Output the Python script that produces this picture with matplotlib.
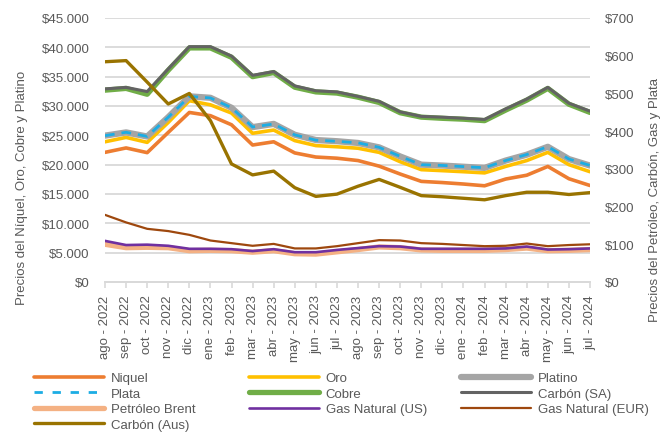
import matplotlib
matplotlib.use("Agg")
import matplotlib.pyplot as plt
from matplotlib.lines import Line2D
from matplotlib.ticker import FuncFormatter, MultipleLocator

months = ["ago - 2022", "sep - 2022", "oct - 2022", "nov - 2022", "dic - 2022",
          "ene - 2023", "feb - 2023", "mar - 2023", "abr - 2023", "may - 2023",
          "jun - 2023", "jul - 2023", "ago - 2023", "sep - 2023", "oct - 2023",
          "nov - 2023", "dic - 2023", "ene - 2024", "feb - 2024", "mar - 2024",
          "abr - 2024", "may - 2024", "jun - 2024", "jul - 2024"]

# Left axis series
niquel = [22100, 22850, 22050, 25500, 28900, 28350, 26800, 23350, 23900, 22000, 21300, 21100,
          20700, 19750, 18400, 17150, 16950, 16700, 16400, 17550, 18200, 19700, 17600, 16450]
oro = [23900, 24650, 23800, 27200, 30900, 30200, 28800, 25350, 25900, 24100, 23250, 23050,
       22800, 22100, 20500, 19150, 18980, 18800, 18600, 19700, 20700, 22100, 20000, 18800]
platino = [24950, 25500, 24800, 28100, 31650, 31400, 29700, 26400, 26950, 25100, 24200, 24000,
           23700, 22950, 21400, 20000, 19850, 19650, 19450, 20700, 21700, 23050, 20950, 19850]
cobre = [32700, 33000, 32000, 36100, 39900, 39900, 38300, 35000, 35700, 33200, 32400, 32200,
         31500, 30600, 28850, 28100, 27900, 27750, 27500, 29300, 31000, 33000, 30300, 28900]

# Right axis series
plata = [388, 397, 386, 437, 492, 488, 462, 411, 419, 390, 376, 373,
         369, 357, 333, 311, 309, 306, 303, 322, 338, 359, 326, 309]
carbon_sa = [512, 516, 505, 565, 624, 624, 599, 548, 558, 520, 507, 504,
             492, 479, 451, 439, 437, 434, 431, 459, 485, 516, 474, 453]
brent = [100, 91, 92, 91, 83, 84, 83, 79, 83, 75, 74, 80,
         86, 93, 91, 85, 84, 84, 84, 86, 90, 83, 84, 86]
gas_us = [109, 98, 99, 96, 88, 88, 87, 82, 87, 79, 79, 85,
          90, 95, 94, 88, 88, 88, 88, 89, 94, 86, 87, 89]
gas_eur = [178, 158, 141, 135, 125, 110, 103, 96, 101, 89, 89, 95,
           103, 111, 110, 103, 101, 98, 95, 96, 102, 95, 98, 100]
carbon_aus = [584, 587, 530, 472, 500, 428, 313, 284, 294, 250, 227, 233,
              254, 272, 251, 229, 226, 222, 218, 229, 238, 238, 232, 237]

plt.rcParams['font.family'] = ['Liberation Sans', 'DejaVu Sans']
TXT = '#595959'
FS = 9.5

W, H = 671, 435
fig = plt.figure(figsize=(W / 100, H / 100), dpi=100)
L, R, T, B = 105, 590, 19, 283
ax = fig.add_axes([L / W, 1 - B / H, (R - L) / W, (B - T) / H])
ax2 = ax.twinx()

x = list(range(len(months)))

h_niq, = ax.plot(x, niquel, color='#ED7D31', lw=2.6, solid_capstyle='round', label='Niquel')
h_oro, = ax.plot(x, oro, color='#FFC000', lw=2.6, solid_capstyle='round', label='Oro')
h_pla, = ax.plot(x, platino, color='#A5A5A5', lw=4.5, solid_capstyle='round', label='Platino')
h_cob, = ax.plot(x, cobre, color='#70AD47', lw=3.8, solid_capstyle='round', label='Cobre')

h_plt, = ax2.plot(x, plata, color='#1CADE4', lw=2.0, ls=(0, (3.5, 2.5)), label='Plata')
h_csa, = ax2.plot(x, carbon_sa, color='#636363', lw=2.2, solid_capstyle='round', label='Carbón (SA)')
h_bre, = ax2.plot(x, brent, color='#F4B183', lw=3.8, solid_capstyle='round', label='Petróleo Brent')
h_gus, = ax2.plot(x, gas_us, color='#7030A0', lw=1.9, solid_capstyle='round', label='Gas Natural (US)')
h_geu, = ax2.plot(x, gas_eur, color='#9E480E', lw=1.6, solid_capstyle='round', label='Gas Natural (EUR)')
h_cau, = ax2.plot(x, carbon_aus, color='#997300', lw=2.4, solid_capstyle='round', label='Carbón (Aus)')

ax.set_xlim(0, len(months) - 1)
ax.set_ylim(0, 45000)
ax2.set_ylim(0, 700)
ax.yaxis.set_major_locator(MultipleLocator(5000))
ax2.yaxis.set_major_locator(MultipleLocator(100))
ax.yaxis.set_major_formatter(FuncFormatter(lambda v, p: "$" + f"{v:,.0f}".replace(",", ".")))
ax2.yaxis.set_major_formatter(FuncFormatter(lambda v, p: f"${v:.0f}"))

ax.grid(axis='y', color='#D9D9D9', lw=1.3)
ax.set_axisbelow(True)
for a in (ax, ax2):
    for s in ('top', 'left', 'right'):
        a.spines[s].set_visible(False)
    a.spines['bottom'].set_color('#D9D9D9')
    a.spines['bottom'].set_linewidth(1.3)
ax.set_xticks(x)
ax.set_xticklabels(months, rotation=90, fontsize=FS, color=TXT)
ax.tick_params(axis='x', length=4, color='#D9D9D9', width=1.2, pad=5)
ax.tick_params(axis='y', length=0, pad=11, labelsize=FS, labelcolor=TXT)
ax2.tick_params(axis='y', length=0, pad=11, labelsize=FS, labelcolor=TXT)

fig.text(22 / W, 1 - 188 / H, 'Precios del Níquel, Oro, Cobre y Platino', rotation=90,
         ha='center', va='center', fontsize=FS, color=TXT)
fig.text(655 / W, 1 - 200 / H, 'Precios del Petróleo, Carbón, Gas y Plata', rotation=90,
         ha='center', va='center', fontsize=FS, color=TXT)

cols = [
    ([h_niq, h_plt, h_bre, h_cau], 34),
    ([h_oro, h_cob, h_gus], 249),
    ([h_pla, h_csa, h_geu], 461),
]
for hs, xpx in cols:
    hh = []
    for h in hs:
        lh = Line2D([0], [0], color=h.get_color(), lw=h.get_linewidth(), solid_capstyle='round')
        if h is h_plt:
            lh.set_dashes((3.0, 3.5))
        hh.append(lh)
    fig.legend(hh, [h.get_label() for h in hs], loc='upper left',
               bbox_to_anchor=(xpx / W, 1 - 373 / H), frameon=False, borderpad=0,
               borderaxespad=0, handlelength=5.3, handletextpad=0.5, labelspacing=0.25,
               fontsize=FS, labelcolor=TXT)

fig.savefig('out.png', dpi=100)
